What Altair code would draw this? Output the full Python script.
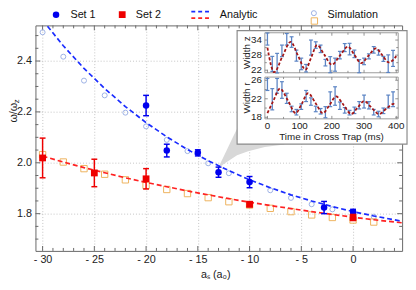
import altair as alt
import pandas as pd

FONT = "Liberation Sans"
AX = "#666666"

# ---------------- main data ----------------
set1_x = [-20, -18, -15, -13, -10, -2.8, 0]
set1_y = [2.225, 2.048, 2.039, 1.963, 1.924, 1.824, 1.807]
set1_err = [0.040, 0.025, 0.012, 0.020, 0.022, 0.024, 0.010]

set2_x = [-30, -25, -20, -10, 0]
set2_y = [2.019, 1.960, 1.937, 1.837, 1.785]
set2_err = [0.078, 0.054, 0.040, 0.010, 0.012]

sim_x = [-30, -28, -26, -24, -22, -20, -18, -16, -14, -12, -10, -8, -6, -4, -2, 0, 2]
sim1_y = [2.513, 2.417, 2.323, 2.265, 2.197, 2.143, 2.090, 2.046, 1.998, 1.959,
          1.925, 1.892, 1.862, 1.837, 1.817, 1.800, 1.788]
sim2_y = [2.032, 2.003, 1.977, 1.955, 1.933, 1.911, 1.895, 1.879, 1.863, 1.847,
          1.834, 1.821, 1.808, 1.795, 1.785, 1.775, 1.767]

ana_x = [-30, -28, -26, -24, -22, -20, -18, -16, -14, -12, -10, -8, -6, -4, -2, 0, 2, 4.74]
ana1_y = [2.561, 2.460, 2.371, 2.292, 2.221, 2.158, 2.102, 2.052, 2.008, 1.969,
          1.933, 1.902, 1.874, 1.850, 1.828, 1.808, 1.791, 1.770]
ana2_y = [2.026, 2.003, 1.981, 1.961, 1.941, 1.923, 1.906, 1.889, 1.874, 1.859,
          1.845, 1.832, 1.820, 1.808, 1.797, 1.786, 1.776, 1.764]

# zoom wedge (grey cone from the inset to the point at -13)
wedge_x = [-13.1, -12.5, -11.65, -11.21, -10.14, -8.53, -6.63]
wedge_lo = [1.975, 1.995, 2.018, 2.030, 2.045, 2.062, 2.072]
wedge_hi = [1.975, 2.025, 2.097, 2.134, 2.2, 2.2, 2.2]

x_major = [-30, -25, -20, -15, -10, -5, 0]
x_minor = [v for v in range(-30, 5) if v % 5 != 0]
y_major = [1.8, 2.0, 2.2, 2.4]
y_minor = [1.70, 1.75, 1.85, 1.90, 1.95, 2.05, 2.10, 2.15, 2.25, 2.30, 2.35, 2.45, 2.50]

# ---------------- inset data ----------------
t_pts = [0, 15, 30, 45, 60, 75, 90, 105, 120, 135, 150, 165, 180, 195, 210, 225,
         240, 255, 270, 285, 300, 315, 330, 345, 360, 375, 390]
z_val = [34.4, 24.5, 24.8, 29.7, 34.3, 33.2, 27.8, 24.5, 22.8, 31.0, 32.0, 30.5, 25.0, 24.2,
         24.2, 28.0, 31.0, 30.4, 28.5, 23.6, 25.5, 27.5, 30.1, 29.0, 26.5, 24.6, 26.7]
z_err = [2.4, 3.0, 3.9, 2.3, 2.3, 2.1, 2.2, 2.3, 1.5, 3.0, 1.3, 1.5, 1.3, 3.2,
         2.6, 1.5, 1.6, 2.3, 1.5, 2.6, 1.3, 1.0, 1.3, 1.0, 1.0, 3.5, 3.2]
r_val = [25.1, 21.9, 24.8, 23.9, 22.1, 19.8, 19.1, 20.3, 22.6, 21.4, 19.8, 19.3, 19.1, 21.9,
         22.6, 20.5, 19.5, 19.0, 19.5, 20.6, 21.4, 20.6, 19.1, 18.7, 19.4, 21.4, 21.9]
r_err = [1.3, 2.3, 1.6, 1.8, 1.1, 0.6, 0.6, 0.6, 1.2, 0.8, 0.6, 0.6, 1.2, 1.6,
         2.0, 0.8, 0.6, 0.5, 0.7, 0.8, 1.4, 0.8, 0.6, 0.6, 0.6, 1.4, 1.6]

zc_t = [0, 21, 46, 72, 95, 118, 136, 154, 177, 200, 225, 250, 270, 291, 314, 337, 357, 377, 400]
zc_v = [31.0, 21.2, 27.3, 33.3, 27.8, 22.2, 27.1, 32.0, 28.1, 24.2, 27.8, 31.4, 28.1, 24.8,
        27.8, 30.7, 27.9, 25.1, 27.6]
rc_t = [0, 18, 39, 63, 88, 107, 126, 150, 172, 193, 213, 237, 260, 280, 300, 323, 346, 370, 392, 400]
rc_v = [18.9, 21.5, 24.2, 21.7, 18.9, 21.0, 23.2, 21.0, 18.9, 20.7, 22.5, 20.6, 18.7, 20.1,
        21.5, 20.1, 18.7, 19.9, 20.9, 20.8]

ix_major = [0, 100, 200, 300, 400]
ix_minor = [50, 150, 250, 350]
z_ticks = [22, 28, 34]
z_minor = [25, 31]
r_ticks = [18, 22, 26]
r_minor = [20, 24]

# ---------------- frames ----------------
W, H = 374, 230

df_s1 = pd.DataFrame({"x": set1_x, "y": set1_y,
                      "lo": [a - b for a, b in zip(set1_y, set1_err)],
                      "hi": [a + b for a, b in zip(set1_y, set1_err)]})
df_s2 = pd.DataFrame({"x": set2_x, "y": set2_y,
                      "lo": [a - b for a, b in zip(set2_y, set2_err)],
                      "hi": [a + b for a, b in zip(set2_y, set2_err)]})
df_sim = pd.DataFrame({"x": sim_x, "s1": sim1_y, "s2": sim2_y})
df_ana = pd.DataFrame({"x": ana_x, "a1": ana1_y, "a2": ana2_y})
df_w = pd.DataFrame({"x": wedge_x, "lo": wedge_lo, "hi": wedge_hi})
df_xmaj = pd.DataFrame({"x": x_major})
df_xmin = pd.DataFrame({"x": x_minor})
df_ymaj = pd.DataFrame({"y": y_major})
df_ymin = pd.DataFrame({"y": y_minor})
dummy = pd.DataFrame({"d": [0]})

xs = alt.Scale(domain=[-30.69, 4.74], nice=False, zero=False)
ys = alt.Scale(domain=[1.6536, 2.540], nice=False, zero=False)

x_axis = alt.Axis(values=x_major, title=None, ticks=False, domain=False, grid=True,
                  gridColor="#c4c4c4", gridDash=[1, 2], gridWidth=1,
                  labelExpr="datum.value < 0 ? '- ' + abs(datum.value) : datum.label",
                  labelPadding=3, labelFont=FONT, labelFontSize=11, labelColor="#222222")
y_axis = alt.Axis(values=y_major, title=None, ticks=False, domain=False, grid=True,
                  gridColor="#c4c4c4", gridDash=[1, 2], gridWidth=1, format=".1f",
                  labelPadding=4, labelFont=FONT, labelFontSize=11, labelColor="#222222")


def X(f):
    return alt.X(f + ":Q", scale=xs, axis=x_axis)


def Y(f):
    return alt.Y(f + ":Q", scale=ys, axis=y_axis)


layers = []
# wedge
layers.append(alt.Chart(df_w).mark_area(color="#d8d8d8", opacity=1).encode(
    x=X("x"), y=Y("lo"), y2="hi:Q"))

# inward ticks on four sides
for df, ln in ((df_xmaj, 5), (df_xmin, 3)):
    layers.append(alt.Chart(df).mark_rule(color=AX, strokeWidth=1).encode(
        x=X("x"), y=alt.value(H), y2=alt.value(H - ln)))
    layers.append(alt.Chart(df).mark_rule(color=AX, strokeWidth=1).encode(
        x=X("x"), y=alt.value(0), y2=alt.value(ln)))
for df, ln in ((df_ymaj, 5), (df_ymin, 3)):
    layers.append(alt.Chart(df).mark_rule(color=AX, strokeWidth=1).encode(
        y=Y("y"), x=alt.value(0), x2=alt.value(ln)))
    layers.append(alt.Chart(df).mark_rule(color=AX, strokeWidth=1).encode(
        y=Y("y"), x=alt.value(W), x2=alt.value(W - ln)))

# simulation markers
layers.append(alt.Chart(df_sim).mark_point(shape="circle", filled=False, size=26,
                                           strokeWidth=1, color="#9cb0e4", opacity=1).encode(
    x=X("x"), y=Y("s1")))
layers.append(alt.Chart(df_sim).mark_point(shape="square", filled=False, size=42,
                                           strokeWidth=1, color="#eeb25c", opacity=1).encode(
    x=X("x"), y=Y("s2")))

# analytic curves
layers.append(alt.Chart(df_ana).mark_line(color="#1a2cff", strokeWidth=1.7,
                                          strokeDash=[5, 3], clip=True).encode(x=X("x"), y=Y("a1")))
layers.append(alt.Chart(df_ana).mark_line(color="#ff2222", strokeWidth=1.7,
                                          strokeDash=[5, 3], clip=True).encode(x=X("x"), y=Y("a2")))

# error bars + caps + points
for df, col, shp, sz in ((df_s1, "#0000ee", "circle", 44), (df_s2, "#ee0000", "square", 48)):
    layers.append(alt.Chart(df).mark_rule(color=col, strokeWidth=1.5).encode(
        x=X("x"), y=Y("lo"), y2="hi:Q"))
    for f in ("lo", "hi"):
        layers.append(alt.Chart(df).mark_tick(color=col, orient="horizontal", size=6,
                                              thickness=1.5, opacity=1).encode(x=X("x"), y=Y(f)))
    layers.append(alt.Chart(df).mark_point(shape=shp, filled=True, size=sz, color=col,
                                           opacity=1).encode(x=X("x"), y=Y("y")))

# legend
LY = -11
layers.append(alt.Chart(dummy).mark_point(shape="circle", filled=True, size=44, color="#0000ee",
                                          opacity=1).encode(x=alt.value(21), y=alt.value(LY)))
layers.append(alt.Chart(dummy).mark_point(shape="square", filled=True, size=48, color="#ee0000",
                                          opacity=1).encode(x=alt.value(88.5), y=alt.value(LY)))
layers.append(alt.Chart(dummy).mark_rule(color="#1a2cff", strokeWidth=1.7, strokeDash=[4, 3]).encode(
    x=alt.value(159), x2=alt.value(180), y=alt.value(-14)))
layers.append(alt.Chart(dummy).mark_rule(color="#ff2222", strokeWidth=1.7, strokeDash=[4, 3]).encode(
    x=alt.value(159), x2=alt.value(180), y=alt.value(-7.5)))
layers.append(alt.Chart(dummy).mark_point(shape="circle", filled=False, size=26, strokeWidth=1,
                                          color="#9cb0e4", opacity=1).encode(
    x=alt.value(284), y=alt.value(-12.5)))
layers.append(alt.Chart(dummy).mark_point(shape="square", filled=False, size=42, strokeWidth=1,
                                          color="#eeb25c", opacity=1).encode(
    x=alt.value(284.5), y=alt.value(-4.5)))
for xp, txt in ((35.7, "Set 1"), (102.3, "Set 2"), (188, "Analytic"), (298, "Simulation")):
    layers.append(alt.Chart(dummy).mark_text(align="left", baseline="middle", font=FONT,
                                             fontSize=11, color="#111111").encode(
        x=alt.value(xp), y=alt.value(LY), text=alt.value(txt)))

# axis titles
layers.append(alt.Chart(dummy).mark_text(align="center", baseline="middle", font=FONT,
                                         fontSize=11, color="#222222").encode(
    x=alt.value(184), y=alt.value(255), text=alt.value("aₛ (a₀)")))
layers.append(alt.Chart(dummy).mark_text(align="center", baseline="middle", font=FONT,
                                         fontSize=11, angle=270, color="#222222").encode(
    x=alt.value(-21.5), y=alt.value(89), text=alt.value("ω/ω")))
layers.append(alt.Chart(dummy).mark_text(align="center", baseline="middle", font=FONT,
                                         fontSize=8, angle=270, color="#222222").encode(
    x=alt.value(-18.5), y=alt.value(77.5), text=alt.value("z")))

# inset white box
layers.append(alt.Chart(dummy).mark_rect(fill="white", stroke="#8a8a8a", strokeWidth=1.2).encode(
    x=alt.value(205.7), x2=alt.value(379), y=alt.value(5.3), y2=alt.value(121)))

main = alt.layer(*layers)

# ---------------- inset ----------------
IX0, IX1 = 234, 370
ixs = alt.Scale(domain=[-8, 406], range=[IX0, IX1], nice=False, zero=False)
PANELS = [
    dict(top=7.5, bot=48.3, dom=[20.98, 36.9], val=z_val, err=z_err, ct=zc_t, cv=zc_v,
         maj=z_ticks, mnr=z_minor, title="Width z"),
    dict(top=52.7, bot=95.3, dom=[17.66, 26.7], val=r_val, err=r_err, ct=rc_t, cv=rc_v,
         maj=r_ticks, mnr=r_minor, title="Width r"),
]
IC = "#5b84c4"
inset_layers = []
for p in PANELS:
    ysc = alt.Scale(domain=p["dom"], range=[p["bot"], p["top"]], nice=False, zero=False)
    IXe = lambda f: alt.X(f + ":Q", scale=ixs, axis=None)
    IYe = lambda f, s=ysc: alt.Y(f + ":Q", scale=s, axis=None)
    dfp = pd.DataFrame({"t": t_pts,
                        "lo": [a - b for a, b in zip(p["val"], p["err"])],
                        "hi": [a + b for a, b in zip(p["val"], p["err"])]})
    dfc = pd.DataFrame({"t": p["ct"], "v": p["cv"]})
    dft = pd.DataFrame({"v": p["maj"]})
    dfm = pd.DataFrame({"v": p["mnr"]})
    dfxt = pd.DataFrame({"t": ix_major})
    dfxm = pd.DataFrame({"t": ix_minor})
    L = []
    L.append(alt.Chart(dummy).mark_rect(fill="white", stroke="#9a9a9a", strokeWidth=1).encode(
        x=alt.value(IX0), x2=alt.value(IX1), y=alt.value(p["top"]), y2=alt.value(p["bot"])))
    for df, ln in ((dfxt, 3), (dfxm, 2)):
        L.append(alt.Chart(df).mark_rule(color="#777777", strokeWidth=0.8).encode(
            x=IXe("t"), y=alt.value(p["bot"]), y2=alt.value(p["bot"] - ln)))
        L.append(alt.Chart(df).mark_rule(color="#777777", strokeWidth=0.8).encode(
            x=IXe("t"), y=alt.value(p["top"]), y2=alt.value(p["top"] + ln)))
    for df, ln in ((dft, 3), (dfm, 2)):
        L.append(alt.Chart(df).mark_rule(color="#777777", strokeWidth=0.8).encode(
            y=IYe("v"), x=alt.value(IX0), x2=alt.value(IX0 + ln)))
        L.append(alt.Chart(df).mark_rule(color="#777777", strokeWidth=0.8).encode(
            y=IYe("v"), x=alt.value(IX1), x2=alt.value(IX1 - ln)))
    L.append(alt.Chart(dft).mark_text(align="right", baseline="middle", font=FONT, fontSize=10,
                                      color="#222222").encode(
        y=IYe("v"), x=alt.value(IX0 - 3), text=alt.Text("v:Q", format="d")))
    L.append(alt.Chart(dfp).mark_rule(color=IC, strokeWidth=1.3).encode(
        x=IXe("t"), y=IYe("lo"), y2="hi:Q"))
    for f in ("lo", "hi"):
        L.append(alt.Chart(dfp).mark_tick(color=IC, orient="horizontal", size=4, thickness=1.2,
                                          opacity=1).encode(x=IXe("t"), y=IYe(f)))
    L.append(alt.Chart(dfc).mark_line(color="#a51515", strokeWidth=1.8, strokeDash=[3, 2],
                                      interpolate="monotone").encode(x=IXe("t"), y=IYe("v")))
    L.append(alt.Chart(dummy).mark_text(align="center", baseline="middle", font=FONT, fontSize=10,
                                        angle=270, color="#222222").encode(
        x=alt.value(215.5), y=alt.value((p["top"] + p["bot"]) / 2), text=alt.value(p["title"])))
    inset_layers.append(alt.layer(*L))

# inset x labels + title
dfxl = pd.DataFrame({"t": ix_major})
inset_lab = alt.layer(
    alt.Chart(dfxl).mark_text(align="center", baseline="middle", font=FONT, fontSize=10,
                              color="#222222").encode(
        x=alt.X("t:Q", scale=ixs, axis=None), y=alt.value(103), text=alt.Text("t:Q", format="d")),
    alt.Chart(dummy).mark_text(align="center", baseline="middle", font=FONT, fontSize=10,
                               color="#222222").encode(
        x=alt.value(302), y=alt.value(114), text=alt.value("Time in Cross Trap (ms)")),
)

chart = alt.layer(main, *inset_layers, inset_lab).resolve_scale(
    x="independent", y="independent"
).properties(
    width=W, height=H,
    padding={"left": 28, "top": 15, "right": 6, "bottom": 31},
    autosize=alt.AutoSizeParams(type="none"),
).configure_view(stroke=AX, strokeWidth=1)

chart.save("out.html", embed_options={"renderer": "svg", "actions": False})
